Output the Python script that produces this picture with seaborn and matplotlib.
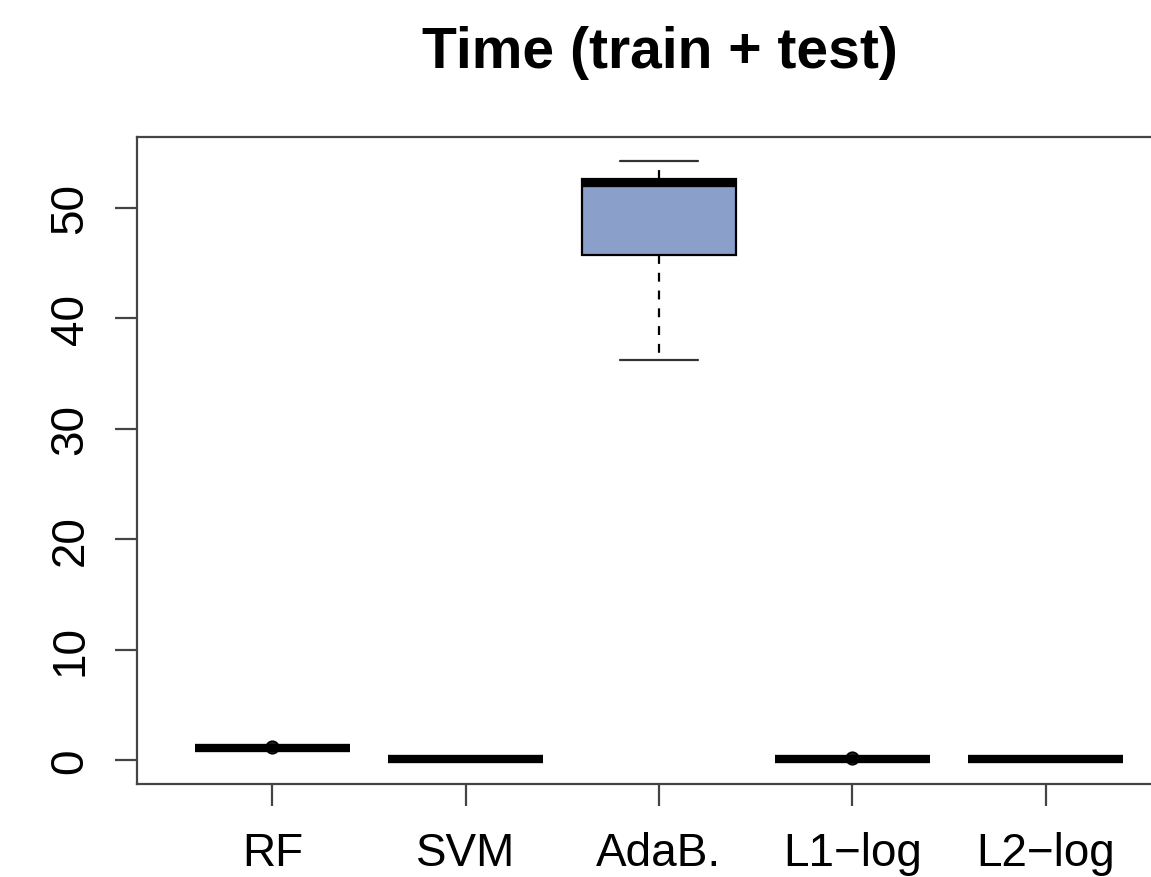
import matplotlib
matplotlib.use("Agg")
import matplotlib.pyplot as plt
import seaborn as sns
import pandas as pd

# Run time (seconds) of each classifier over repeated train/test splits
methods = ["RF", "SVM", "AdaB.", "L1\u2212log", "L2\u2212log"]
rf_time = [1.1, 1.1, 1.1, 1.1, 1.22]
svm_time = [0.05, 0.05, 0.05, 0.05, 0.05]
adab_time = [36.2, 45.7, 52.2, 52.6, 54.2]
l1_time = [0.08, 0.08, 0.08, 0.08, 0.15]
l2_time = [0.05, 0.05, 0.05, 0.05, 0.05]

y_ticks = [0, 10, 20, 30, 40, 50]

df = pd.DataFrame({
    "method": sum([[m] * 5 for m in methods], []),
    "time": rf_time + svm_time + adab_time + l1_time + l2_time,
})

sns.set_style("white")
plt.rcParams["font.family"] = ["Liberation Sans", "DejaVu Sans"]

fig = plt.figure(figsize=(11.51, 8.78), dpi=100)
ax = fig.add_axes([137 / 1151, 1 - 785 / 878, (1181 - 137) / 1151, (785 - 138) / 878])

fill = "#8b9fcb"
sns.boxplot(
    data=df, x="method", y="time", order=methods, ax=ax,
    color=fill, saturation=1, width=0.8, whis=1.5,
    linecolor="black", linewidth=1.6,
    boxprops=dict(facecolor=fill, edgecolor="black", linewidth=1.6),
    medianprops=dict(color="black", linewidth=6, solid_capstyle="butt"),
    whiskerprops=dict(color="black", linewidth=1.6, linestyle=(0, (4, 4))),
    capprops=dict(color="#333333", linewidth=1.6),
    flierprops=dict(marker="o", markersize=9, markerfacecolor="#222222",
                    markeredgecolor="black", markeredgewidth=1.2),
)

# caps at half the box width
for line in ax.lines:
    xd = line.get_xdata()
    if len(xd) == 2 and line.get_linestyle() == "-" and abs(xd[1] - xd[0] - 0.4) < 0.05:
        c = (xd[0] + xd[1]) / 2
        line.set_xdata([c - 0.2, c + 0.2])

ax.set_xlim(-0.7, 4.7)
ax.set_ylim(-2.17, 56.4)
ax.set_yticks(y_ticks)
ax.set_yticklabels([str(v) for v in y_ticks], rotation=90, va="center")
ax.set_xlabel("")
ax.set_ylabel("")

for s in ax.spines.values():
    s.set_color("#444444")
    s.set_linewidth(1.6)

ax.tick_params(axis="both", which="both", direction="out", length=16,
               width=1.6, color="#444444", labelsize=33, labelcolor="black")
ax.tick_params(axis="y", pad=16, left=True)
ax.tick_params(axis="x", pad=18, bottom=True)

fig.text(660 / 1151, 1 - 53 / 878, "Time (train + test)", ha="center", va="center",
         fontsize=41, fontweight="bold", color="black")

fig.savefig("out.png", dpi=100)
